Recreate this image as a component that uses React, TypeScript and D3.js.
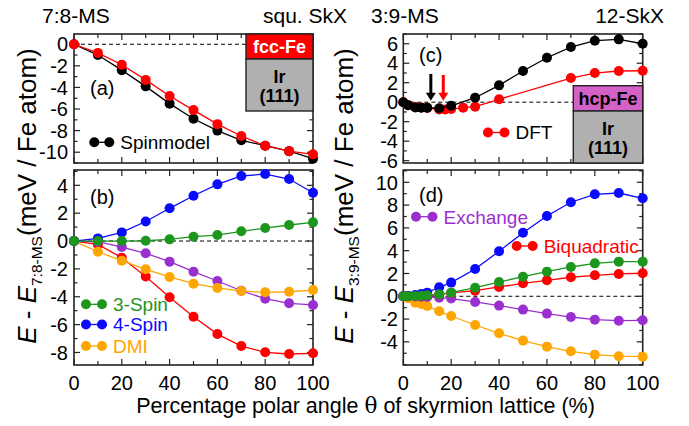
import React from 'react';
import * as d3 from 'd3';

// polar angle in % of the skyrmion lattice
const pctA = [0, 10, 20, 30, 40, 50, 60, 70, 80, 90, 100];
const spinA = [0, -1.0, -2.4, -3.9, -5.5, -6.9, -8.0, -8.9, -9.4, -9.9, -10.6];
const dftA = [0, -0.8, -1.9, -3.3, -4.8, -6.1, -7.4, -8.5, -9.4, -9.9, -10.2];

const threeSpinB = [0, 0, 0, 0.02, 0.12, 0.31, 0.43, 0.7, 0.93, 1.15, 1.34];
const fourSpinB = [0, 0.19, 0.62, 1.4, 2.35, 3.25, 4.07, 4.67, 4.81, 4.45, 3.47];
const dmiB = [0, -0.77, -1.41, -2.03, -2.58, -3.06, -3.37, -3.59, -3.68, -3.64, -3.52];
const exchangeB = [0, -0.05, -0.43, -0.88, -1.48, -2.2, -2.87, -3.57, -4.14, -4.47, -4.59];
const biquadB = [0, -0.24, -1.2, -2.54, -4.04, -5.43, -6.68, -7.54, -7.99, -8.11, -8.06];

const pctC = [0, 2, 5, 7.5, 10, 15, 20, 30, 40, 50, 60, 70, 80, 90, 100];
const spinC = [0, -0.3, -0.55, -0.56, -0.56, -0.62, -0.37, 0.46, 1.73, 3.2, 4.56, 5.66, 6.31, 6.45, 6.0];
const pctCdft = [0, 2, 5, 7.5, 10, 15, 17.5, 20, 25, 30, 40, 70, 80, 90, 100];
const dftC = [0, -0.3, -0.5, -0.55, -0.6, -0.75, -0.75, -0.7, -0.56, -0.46, 0.3, 2.48, 2.99, 3.2, 3.23];
const arrowPctC = [11.5, 16.7];

const pctD = [0, 2, 5, 7.5, 10, 15, 20, 30, 40, 50, 60, 70, 80, 90, 100];
const exchangeD = [0, 0, -0.02, -0.04, -0.06, -0.12, -0.2, -0.5, -0.82, -1.17, -1.52, -1.82, -2.05, -2.14, -2.11];
const biquadD = [0, 0, 0.02, 0.04, 0.07, 0.17, 0.29, 0.49, 0.82, 1.14, 1.4, 1.67, 1.84, 1.96, 2.02];
const threeSpinD = [0, 0, 0.03, 0.05, 0.08, 0.17, 0.32, 0.75, 1.25, 1.72, 2.16, 2.57, 2.89, 3.04, 3.04];
const fourSpinD = [0, 0.02, 0.11, 0.2, 0.32, 0.79, 1.2, 2.39, 3.95, 5.58, 7.04, 8.25, 8.95, 9.06, 8.6];
const dmiD = [0, -0.18, -0.56, -0.68, -0.85, -1.32, -1.73, -2.52, -3.25, -3.89, -4.42, -4.83, -5.12, -5.26, -5.3];

const xTickLabels = [0, 20, 40, 60, 80, 100];

const RED = '#ff0000';
const BLUE = '#0a0aff';
const GREEN = '#1c961c';
const ORANGE = '#ffa500';
const PURPLE = '#9a2fd0';
const FONT = 'Liberation Sans, Arial, Helvetica, sans-serif';

type Series = { xs: number[]; ys: number[]; color: string };

function Panel(props: {
  x0: number; x1: number; y0: number; y1: number;
  yDomain: [number, number]; yTicks: number[]; yLabelX: number;
  series: Series[]; xLabels?: boolean; children?: (x: any, y: any) => React.ReactNode;
}) {
  const { x0, x1, y0, y1, yDomain, yTicks, yLabelX, series, xLabels } = props;
  const x = d3.scaleLinear().domain([0, 100]).range([x0, x1]);
  const y = d3.scaleLinear().domain(yDomain).range([y1, y0]);
  const line = d3.line<number>();
  const yMinor = d3.range(Math.ceil(yDomain[0]), Math.floor(yDomain[1]) + 1).filter((v) => !yTicks.includes(v));
  const xTicks = d3.range(0, 101, 10);

  return (
    <g>
      <line x1={x0} x2={x1} y1={y(0)} y2={y(0)} stroke="#000" strokeWidth={1} strokeDasharray="4,3" />
      {xTicks.map((t) => {
        const len = t % 20 === 0 ? 6 : 4;
        return (
          <g key={'x' + t}>
            <line x1={x(t)} x2={x(t)} y1={y0} y2={y0 + len} stroke="#222" strokeWidth={1.2} />
            <line x1={x(t)} x2={x(t)} y1={y1} y2={y1 - len} stroke="#222" strokeWidth={1.2} />
          </g>
        );
      })}
      {yTicks.map((t) => (
        <g key={'y' + t}>
          <line x1={x0} x2={x0 + 6} y1={y(t)} y2={y(t)} stroke="#222" strokeWidth={1.2} />
          <line x1={x1} x2={x1 - 6} y1={y(t)} y2={y(t)} stroke="#222" strokeWidth={1.2} />
          <text x={yLabelX} y={y(t)} dy="0.36em" textAnchor="end" fontSize={20}>{t}</text>
        </g>
      ))}
      {yMinor.map((t) => (
        <g key={'m' + t}>
          <line x1={x0} x2={x0 + 3.5} y1={y(t)} y2={y(t)} stroke="#222" strokeWidth={1.2} />
          <line x1={x1} x2={x1 - 3.5} y1={y(t)} y2={y(t)} stroke="#222" strokeWidth={1.2} />
        </g>
      ))}
      <rect x={x0} y={y0} width={x1 - x0} height={y1 - y0} fill="none" stroke="#222" strokeWidth={1.6} />
      {xLabels &&
        xTickLabels.map((t) => (
          <text key={'xl' + t} x={x(t)} y={y1 + 25} textAnchor="middle" fontSize={20}>{t}</text>
        ))}
      {props.children && props.children(x, y)}
      {series.map((s, i) => {
        const pts = s.xs.map((v, j) => [x(v), y(s.ys[j])] as [number, number]);
        return (
          <g key={i}>
            <path d={line(pts as any) || ''} fill="none" stroke={s.color} strokeWidth={1.3} />
            {pts.map((p, j) => (
              <circle key={j} cx={p[0]} cy={p[1]} r={5} fill={s.color} />
            ))}
          </g>
        );
      })}
    </g>
  );
}

function Legend({ x, y, color, label, textColor, gap = 15 }: { x: number; y: number; color: string; label: string; textColor?: string; gap?: number }) {
  return (
    <g>
      <line x1={x} x2={x + gap} y1={y} y2={y} stroke={color} strokeWidth={1.3} />
      <circle cx={x} cy={y} r={5} fill={color} />
      <circle cx={x + gap} cy={y} r={5} fill={color} />
      <text x={x + gap + 11} y={y} dy="0.36em" fontSize={19} fill={textColor || '#000'}>{label}</text>
    </g>
  );
}

function Substrate({ x, y, w, topH, botH, fill, top, topColor }: { x: number; y: number; w: number; topH: number; botH: number; fill: string; top: string; topColor: string }) {
  return (
    <g fontWeight="bold" fontSize={18} textAnchor="middle">
      <rect x={x} y={y} width={w} height={topH} fill={fill} stroke="#222" strokeWidth={1.4} />
      <rect x={x} y={y + topH} width={w} height={botH} fill="#b0b0b0" stroke="#222" strokeWidth={1.4} />
      <text x={x + w / 2} y={y + topH / 2} dy="0.36em" fill={topColor}>{top}</text>
      <text x={x + w / 2} y={y + topH + botH * 0.33} dy="0.36em">Ir</text>
      <text x={x + w / 2} y={y + topH + botH * 0.7} dy="0.36em">(111)</text>
    </g>
  );
}

function YTitle({ x, y, sub }: { x: number; y: number; sub: string }) {
  return (
    <text transform={`translate(${x},${y}) rotate(-90)`} textAnchor="middle" fontSize={26}>
      <tspan fontStyle="italic">E</tspan>
      <tspan> - </tspan>
      <tspan fontStyle="italic">E</tspan>
      <tspan fontSize={15.5} dy={6}>{sub}</tspan>
      <tspan dy={-6}>(meV / Fe atom)</tspan>
    </text>
  );
}

export default function App() {
  const L = [74, 313];
  const R = [403.3, 642.7];
  return (
    <svg width={689} height={426} style={{ position: 'absolute', left: 0, top: 0, background: '#fff' }} fontFamily={FONT}>
      <text x={42} y={23} fontSize={21}>7:8-MS</text>
      <text x={347} y={23} fontSize={21} textAnchor="end">squ. SkX</text>
      <text x={371} y={23} fontSize={21}>3:9-MS</text>
      <text x={664} y={23} fontSize={21} textAnchor="end">12-SkX</text>

      {/* (a) */}
      <Panel x0={L[0]} x1={L[1]} y0={34} y1={163} yDomain={[-11, 0.95]} yTicks={[0, -2, -4, -6, -8, -10]} yLabelX={68}
        series={[
          { xs: pctA, ys: spinA, color: '#000' },
          { xs: pctA, ys: dftA, color: RED },
        ]}
      >
        {() => <Substrate x={246} y={34} w={67} topH={25} botH={52} fill={RED} top="fcc-Fe" topColor="#fff" />}
      </Panel>
      <text x={90} y={95} fontSize={20}>(a)</text>
      <Legend x={94.3} y={142.3} color="#000" label="Spinmodel" />

      {/* (b) */}
      <Panel x0={L[0]} x1={L[1]} y0={170} y1={365} yDomain={[-8.9, 5.1]} yTicks={[4, 2, 0, -2, -4, -6, -8]} yLabelX={68} xLabels
        series={[
          { xs: pctA, ys: biquadB, color: RED },
          { xs: pctA, ys: exchangeB, color: PURPLE },
          { xs: pctA, ys: dmiB, color: ORANGE },
          { xs: pctA, ys: fourSpinB, color: BLUE },
          { xs: pctA, ys: threeSpinB, color: GREEN },
        ]}
      />
      <text x={90} y={204} fontSize={20}>(b)</text>
      <Legend x={86} y={304.3} color={GREEN} textColor={GREEN} label="3-Spin" gap={16} />
      <Legend x={86} y={324.5} color={BLUE} textColor={BLUE} label="4-Spin" gap={16} />
      <Legend x={86} y={346} color={ORANGE} textColor={ORANGE} label="DMI" gap={16} />

      {/* (c) */}
      <Panel x0={R[0]} x1={R[1]} y0={34} y1={163} yDomain={[-6.24, 7]} yTicks={[6, 4, 2, 0, -2, -4, -6]} yLabelX={398}
        series={[
          { xs: pctCdft, ys: dftC, color: RED },
          { xs: pctC, ys: spinC, color: '#000' },
        ]}
      >
        {(x: any, y: any) => (
          <g>
            <Substrate x={573.3} y={85.7} w={69.4} topH={25.3} botH={52} fill="#d462c6" top="hcp-Fe" topColor="#000" />
            {arrowPctC.map((p, i) => {
              const c = i === 0 ? '#000' : RED;
              const ax = x(p);
              const yt = y(2.9) + (i === 0 ? 0 : 1);
              const yb = y(0.15);
              return (
                <g key={i}>
                  <line x1={ax} x2={ax} y1={yt} y2={yb - 7} stroke={c} strokeWidth={3} />
                  <path d={`M${ax - 5},${yb - 8}L${ax + 5},${yb - 8}L${ax},${yb}Z`} fill={c} />
                </g>
              );
            })}
          </g>
        )}
      </Panel>
      <text x={419} y={62} fontSize={20}>(c)</text>
      <Legend x={488} y={132.5} color={RED} label="DFT" gap={16.5} />

      {/* (d) */}
      <Panel x0={R[0]} x1={R[1]} y0={170} y1={365} yDomain={[-6.03, 11.08]} yTicks={[10, 8, 6, 4, 2, 0, -2, -4]} yLabelX={398} xLabels
        series={[
          { xs: pctD, ys: dmiD, color: ORANGE },
          { xs: pctD, ys: exchangeD, color: PURPLE },
          { xs: pctD, ys: biquadD, color: RED },
          { xs: pctD, ys: fourSpinD, color: BLUE },
          { xs: pctD, ys: threeSpinD, color: GREEN },
        ]}
      />
      <text x={419} y={202} fontSize={20}>(d)</text>
      <Legend x={416} y={216.7} color={PURPLE} textColor={PURPLE} label="Exchange" gap={16.5} />
      <Legend x={516.7} y={246} color={RED} textColor={RED} label="Biquadratic" gap={16} />

      <YTitle x={36} y={196} sub="7:8-MS" />
      <YTitle x={353} y={196} sub="3:9-MS" />

      <text x={365.5} y={413} fontSize={21.5} textAnchor="middle">
        Percentage polar angle <tspan fontFamily="DejaVu Serif, serif">θ</tspan> of skyrmion lattice (%)
      </text>
    </svg>
  );
}
